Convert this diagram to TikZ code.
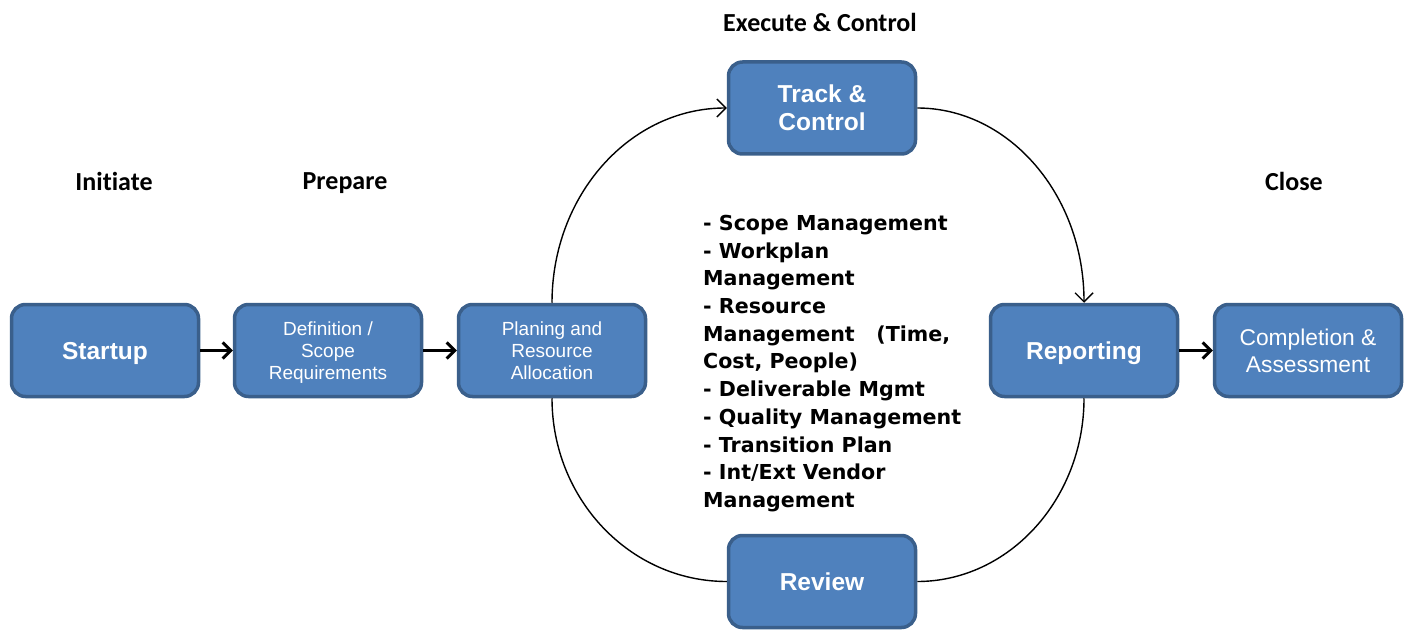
\documentclass[tikz,border=0pt]{standalone}
\usepackage{fontspec}
\setmainfont{Liberation Sans}
\newfontfamily\listfont{DejaVu Sans}
\newfontfamily\headfont[Ligatures={NoCommon}]{Carlito}
\usetikzlibrary{arrows.meta}
\definecolor{boxfill}{HTML}{4F81BD}
\definecolor{boxline}{HTML}{3A5F8B}
\begin{document}
\begin{tikzpicture}[x=1pt,y=-1pt,
  stage/.style={draw=boxline, fill=boxfill, line width=3.5pt, rounded corners=14pt,
    minimum width=187pt, minimum height=92pt, text=white, align=center, inner sep=0pt,
    text depth=0pt},
  bigbold/.style={font=\fontsize{24.5}{28}\selectfont\bfseries},
  smallreg/.style={font=\fontsize{19}{22}\selectfont},
  midreg/.style={font=\fontsize{22.8}{27}\selectfont},
  phase/.style={font=\headfont\fontsize{26}{30}\selectfont\bfseries, inner sep=0pt,
    text depth=0pt},
  flow/.style={line width=3pt, -{Straight Barb[length=8pt,width=16pt,line width=3pt]}},
  loop/.style={line width=1.4pt},
  looparrow/.style={loop, -{Straight Barb[length=9pt,width=18pt,line width=1.4pt]}}]
\useasboundingbox (0,0) rectangle (1408,631);

% phase headings
\node[phase] (hinit) at (114,181) {Initiate};
\node[phase] (hprep) at (345,181) {Prepare};
\node[phase] (hexec) at (820,22) {Execute \& Control};
\node[phase] (hclose) at (1294,181) {Close};

% stage boxes
\node[stage, bigbold] (startup) at (105,350.5) {Startup};
\node[stage, smallreg] (define) at (328,350.5) {Definition /\\Scope\\Requirements};
\node[stage, smallreg] (plan) at (552,350.5) {Planing and\\Resource\\Allocation};
\node[stage, bigbold] (track) at (822,108) {Track \&\\Control};
\node[stage, bigbold] (report) at (1084,350.5) {Reporting};
\node[stage, midreg] (complete) at (1308,350.5) {Completion \&\\Assessment};
\node[stage, bigbold] (review) at (822,581.5) {Review};

% straight flow
\draw[flow] (startup.east) -- (define.west);
\draw[flow] (define.east) -- (plan.west);
\draw[flow] (report.east) -- (complete.west);

% control loop
\draw[looparrow] (plan.north) .. controls (552,195) and (630,108) .. (track.west);
\draw[looparrow] (track.east) .. controls (1009,108) and (1084,195) .. (report.north);
\draw[loop] (report.south) .. controls (1084,499) and (1009,581.5) .. (review.east);
\draw[loop] (review.west) .. controls (630,581.5) and (552,499) .. (plan.south);

% activity list
\node[anchor=north west, align=left, inner sep=0pt,
  font=\listfont\fontsize{20.6}{27.7}\selectfont\bfseries] (tasks) at (703,215)
  {- Scope Management\\
   - Workplan\\
   Management\\
   - Resource\\
   Management\ \ \ (Time,\\
   Cost, People)\\
   - Deliverable Mgmt\\
   - Quality Management\\
   - Transition Plan\\
   - Int/Ext Vendor\\
   Management};
\end{tikzpicture}
\end{document}
